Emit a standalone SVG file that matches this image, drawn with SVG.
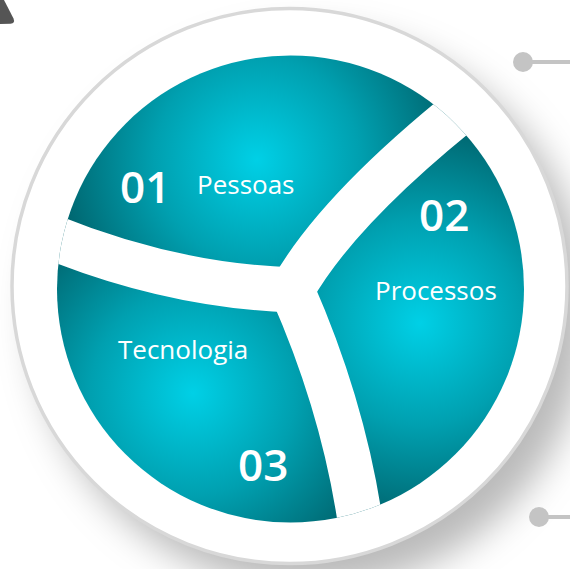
<svg xmlns="http://www.w3.org/2000/svg" width="570" height="569" viewBox="0 0 570 569">
  <defs>
    <filter id="shadow" x="-20%" y="-20%" width="160%" height="160%">
      <feGaussianBlur in="SourceAlpha" stdDeviation="18"/>
      <feOffset dx="22" dy="26" result="b"/>
      <feFlood flood-color="#000" flood-opacity="0.27"/>
      <feComposite in2="b" operator="in"/>
    </filter>
    <radialGradient id="g1" gradientUnits="userSpaceOnUse" cx="257" cy="160" r="205">
      <stop offset="0" stop-color="#00d0e6"/>
      <stop offset="0.5" stop-color="#00a0b0"/>
      <stop offset="1" stop-color="#00626b"/>
    </radialGradient>
    <radialGradient id="g2" gradientUnits="userSpaceOnUse" cx="420" cy="323" r="205">
      <stop offset="0" stop-color="#00d0e6"/>
      <stop offset="0.5" stop-color="#00a0b0"/>
      <stop offset="1" stop-color="#00626b"/>
    </radialGradient>
    <radialGradient id="g3" gradientUnits="userSpaceOnUse" cx="193" cy="393" r="205">
      <stop offset="0" stop-color="#00d0e6"/>
      <stop offset="0.5" stop-color="#00a0b0"/>
      <stop offset="1" stop-color="#00626b"/>
    </radialGradient>
    <clipPath id="inner">
      <circle cx="290.5" cy="289" r="233.5"/>
    </clipPath>
  </defs>
  <style>
    .band { fill: none; stroke: #ffffff; stroke-width: 45; stroke-linecap: round; }
    .num { font-family: "Open Sans", "Liberation Sans", sans-serif; font-weight: 600; font-size: 44px; fill: #ffffff; }
    .lbl { font-family: "Open Sans", "Liberation Sans", sans-serif; font-weight: 400; font-size: 26px; fill: #ffffff; }
    .dot { fill: #c4c4c4; }
    .lead { stroke: #c4c4c4; stroke-width: 4; fill: none; }
  </style>

  <path d="M0,0 L4,0 L13.5,18.5 Q15.5,23.5 10.5,23.8 L0,24 Z" fill="#555555"/>

  <circle cx="289.5" cy="286" r="277.5" fill="#ffffff" filter="url(#shadow)"/>
  <circle cx="289.5" cy="286" r="277.5" fill="#ffffff" stroke="#d8d8d8" stroke-width="3.5"/>

  <g clip-path="url(#inner)">
    <g id="seg-01">
      <path d="M292,290 Q340,205 482,94 L600,-100 L-100,-100 L-100,200 L30,228 Q160,285 292,290 Z" fill="url(#g1)"/>
    </g>
    <g id="seg-02">
      <path d="M292,290 Q340,205 482,94 L700,0 L700,700 L365,560 Q351.5,425 292,290 Z" fill="url(#g2)"/>
    </g>
    <g id="seg-03">
      <path d="M292,290 Q351.5,425 365,560 L300,700 L-100,700 L-100,200 L30,228 Q160,285 292,290 Z" fill="url(#g3)"/>
    </g>
    <g id="gaps">
      <path class="band" d="M30,228 Q160,285 292,290"/>
      <path class="band" d="M292,290 Q340,205 482,94"/>
      <path class="band" d="M292,290 Q351.5,425 365,560"/>
    </g>
  </g>

  <g id="labels">
    <text class="num" x="120" y="203">01</text>
    <text class="lbl" x="197" y="194">Pessoas</text>
    <text class="num" x="419" y="231">02</text>
    <text class="lbl" x="375" y="300">Processos</text>
    <text class="lbl" x="118" y="359">Tecnologia</text>
    <text class="num" x="238" y="481">03</text>
  </g>

  <g id="connectors">
    <line class="lead" x1="523" y1="62" x2="570" y2="62"/>
    <circle class="dot" cx="523" cy="62" r="10"/>
    <line class="lead" x1="539" y1="517" x2="570" y2="517"/>
    <circle class="dot" cx="539" cy="517" r="10"/>
  </g>
</svg>
